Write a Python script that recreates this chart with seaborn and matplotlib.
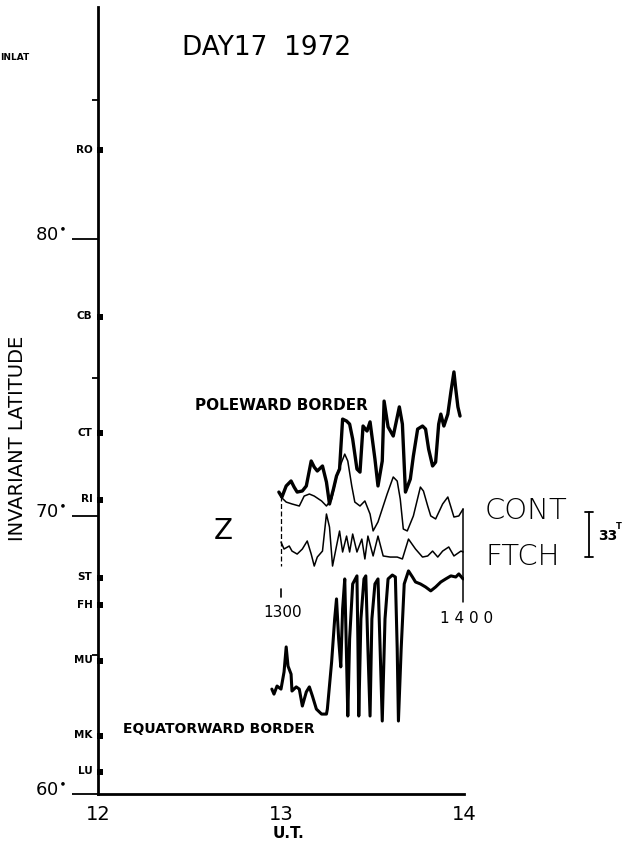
import matplotlib
matplotlib.use("Agg")
import matplotlib.pyplot as plt
import numpy as np
import pandas as pd
import seaborn as sns

# ---------------------------------------------------------------- data
# magnetometer stations along the meridian chain (invariant latitude, deg)
stations = ["RO", "CB", "CT", "RI", "ST", "FH", "MU", "MK", "LU"]
station_lat = [83.2, 77.2, 73.0, 70.6, 67.8, 66.8, 64.8, 62.1, 60.8]

lat_major = [60, 70, 80]
lat_minor = [65, 75, 85]
ut_ticks = [12, 13, 14]
ut_labels = ["12", "13", "14"]

# poleward border of the auroral oval: minutes after 1300 UT, latitude
pole_min = [-0.7, 0.3, 1.7, 3.3, 4.3, 5.3, 7.0, 8.3, 9.9, 10.9, 11.9, 13.6,
            14.9, 15.9, 17.2, 18.2, 19.2, 20.2, 21.5, 22.5, 23.5, 24.9, 25.9,
            26.9, 28.2, 29.2, 30.8, 31.8, 33.2, 33.8, 35.1, 36.8, 38.8, 39.8,
            40.8, 42.4, 43.4, 44.8, 46.4, 47.4, 48.4, 49.7, 50.7, 51.7, 52.4,
            53.4, 54.7, 55.7, 56.7, 57.3, 58.0, 58.7]
pole_lat = [70.88, 70.70, 71.10, 71.28, 71.06, 70.88, 70.92, 71.10, 72.00,
            71.78, 71.64, 71.82, 71.24, 70.45, 70.99, 71.46, 71.71, 73.51,
            73.44, 73.33, 72.79, 71.71, 71.60, 73.26, 73.08, 73.41, 72.07,
            71.10, 72.00, 74.16, 73.23, 72.90, 73.95, 73.33, 70.88, 71.35,
            72.18, 73.15, 73.26, 73.15, 72.43, 71.82, 71.96, 73.33, 73.69,
            73.26, 73.69, 74.49, 75.21, 74.59, 73.95, 73.62]

# equatorward border
eq_min = [-3.0, -2.3, -1.3, 0.0, 1.0, 1.7, 2.3, 3.3, 3.6, 5.0, 6.0, 7.0, 8.3,
          9.3, 10.3, 11.6, 13.3, 14.9, 15.2, 16.6, 17.6, 18.2, 18.9, 19.6,
          20.2, 20.9, 21.5, 21.9, 22.5, 23.5, 24.9, 25.2, 25.5, 26.2, 27.2,
          27.8, 28.5, 29.2, 29.8, 30.8, 31.8, 32.5, 33.2, 34.1, 35.1, 36.5,
          37.5, 38.1, 38.5, 39.4, 40.4, 41.8, 43.1, 44.1, 45.7, 47.4, 49.1,
          50.7, 52.4, 54.0, 55.7, 57.3, 58.3, 59.7]
eq_lat = [63.78, 63.60, 63.89, 63.78, 64.40, 65.30, 64.61, 64.32, 63.71,
          63.86, 63.78, 63.17, 63.68, 63.86, 63.53, 63.06, 62.88, 62.88,
          63.06, 64.76, 66.31, 67.03, 65.59, 64.58, 66.67, 67.75, 64.86,
          62.81, 65.59, 67.57, 67.86, 65.59, 62.81, 66.31, 67.75, 67.86,
          65.23, 62.81, 66.31, 67.57, 67.75, 65.23, 62.63, 66.31, 67.75,
          67.89, 67.82, 65.23, 62.63, 65.23, 67.57, 68.04, 67.82, 67.64,
          67.57, 67.46, 67.32, 67.46, 67.64, 67.75, 67.86, 67.82, 67.93,
          67.75]

# Z-component magnetograms 1300-1400 UT (deflection, nT)
cont_min = [0.0, 1.7, 3.6, 6.0, 7.6, 9.3, 10.9, 13.3, 14.9, 16.6, 18.6, 20.9,
            21.9, 23.2, 24.2, 25.9, 27.5, 29.2, 30.2, 31.8, 34.8, 36.8, 38.1,
            39.1, 40.1, 41.4, 43.4, 45.7, 46.7, 48.1, 49.1, 50.7, 53.0, 54.7,
            55.7, 56.7, 58.3, 59.7]
cont_nt = [8.8, 5.1, 3.7, 2.2, 9.5, 11.0, 9.5, 5.9, 2.2, 7.3, 27.1, 40.3, 35.2,
           16.9, 5.1, 2.2, 5.9, -3.7, -16.1, -9.5, 11.0, 23.5, 20.5, 7.3, -14.7,
           -16.1, -5.1, 16.1, 13.2, 2.2, -5.1, -7.3, 3.7, 8.8, 1.5, -5.9, -5.1,
           0.0]

ftch_min = [0.0, 1.0, 2.7, 3.6, 5.3, 7.0, 8.6, 9.9, 10.9, 11.9, 13.6, 14.9,
            15.9, 16.9, 18.2, 19.2, 20.2, 21.5, 22.5, 23.5, 24.9, 26.5, 27.5,
            28.5, 30.2, 31.8, 33.5, 35.8, 38.1, 39.8, 41.8, 44.1, 46.4, 48.1,
            49.7, 51.4, 53.0, 55.0, 56.7, 59.0, 59.7]
ftch_nt = [7.3, 2.2, 4.4, 0.7, -1.5, 2.2, 8.1, -1.5, -10.3, -3.7, 0.7, 27.9,
           18.3, -10.3, 4.4, 15.4, 0.0, 11.7, 0.0, 13.2, 0.0, 9.5, -5.1, 11.7,
           -2.9, 11.7, -2.9, -3.7, -3.7, -5.1, 9.5, 2.2, -3.7, -2.9, 0.7, -3.7,
           0.7, 3.7, -2.9, 0.7, 0.0]

scale_nt = 33          # length of the calibration bar, nT

# ---------------------------------------------------------------- layout
sns.set_theme(style="white")
plt.rcParams["font.family"] = ["DejaVu Sans"]
plt.rcParams.update({"text.color": "black", "axes.labelcolor": "black",
                     "xtick.color": "black", "ytick.color": "black"})

W, H = 630, 845
fig = plt.figure(figsize=(W / 100, H / 100), dpi=100)
ax = fig.add_axes([98 / W, 50 / H, 366 / W, 787 / H])
ax.set_xlim(12, 14)
ax.set_ylim(60, 88.36)


def ut(minutes):
    return 13 + np.asarray(minutes, dtype=float) / 60.0


def fpx(x, y):
    return x / W, 1 - y / H


# magnetogram placement in the latitude frame
deg_per_nt = 1.62 / scale_nt
cont_base, ftch_base = 70.27, 68.72

# ---------------------------------------------------------------- traces
pole = pd.DataFrame({"UT": ut(pole_min), "lat": pole_lat})
equ = pd.DataFrame({"UT": ut(eq_min), "lat": eq_lat})
cont = pd.DataFrame({"UT": ut(cont_min),
                     "lat": cont_base + np.array(cont_nt) * deg_per_nt})
ftch = pd.DataFrame({"UT": ut(ftch_min),
                     "lat": ftch_base + np.array(ftch_nt) * deg_per_nt})

for df, lw in [(pole, 2.4), (equ, 2.2), (cont, 1.1), (ftch, 1.1)]:
    sns.lineplot(data=df, x="UT", y="lat", ax=ax, color="black", lw=lw,
                 estimator=None, sort=False)

# time frame of the magnetograms
ax.plot([ut(0), ut(0)], [70.75, 68.2], color="black", lw=0.9,
        ls=(0, (4, 2)))
ax.plot([ut(0), ut(0)], [67.4, 67.1], color="black", lw=1.2)
ax.plot([ut(60) - 0.003, ut(60) - 0.003], [cont_base, 66.92],
        color="black", lw=1.1)
ax.text(ut(0.6), 66.56, "1300", ha="center", va="center", fontsize=11)
ax.text(ut(60.8), 66.36, "1 4 0 0", ha="center", va="center", fontsize=11)

# calibration bar
bx = 14.683
b0, b1 = 68.54, 68.54 + scale_nt * deg_per_nt
ax.plot([bx, bx], [b0, b1], color="black", lw=1.3, clip_on=False)
for yb in (b0, b1):
    ax.plot([bx - 0.024, bx + 0.024], [yb, yb], color="black", lw=1.3,
            clip_on=False)
ax.text(14.733, 69.35, f"{scale_nt}", ha="left", va="center",
        fontsize=10, fontweight="bold")
ax.text(14.83, 69.66, "T", ha="left", va="center", fontsize=6,
        fontweight="bold")

# component and station names of the magnetograms
ax.text(12.683, 69.51, "Z", ha="center", va="center", fontsize=20)
ax.text(14.115, 70.23, "CONT", ha="left", va="center", fontsize=21,
        fontweight="light")
ax.text(14.115, 68.58, "FTCH", ha="left", va="center", fontsize=21,
        fontweight="light")

ax.text(12.53, 74.05, "POLEWARD BORDER", ha="left", va="center",
        fontsize=11, fontweight="bold")
ax.text(12.137, 62.38, "EQUATORWARD BORDER", ha="left", va="center",
        fontsize=10, fontweight="bold")

# ---------------------------------------------------------------- stations
st = pd.DataFrame({"UT": [12.012] * len(stations), "lat": station_lat})
sns.scatterplot(data=st, x="UT", y="lat", ax=ax, marker="s", s=22,
                color="black", edgecolor="black", linewidth=0, clip_on=False,
                zorder=5)
for name, lat in zip(stations, station_lat):
    ax.annotate(name, xy=(0, lat), xycoords=("axes fraction", "data"),
                xytext=(-4, 1), textcoords="offset points", ha="right",
                va="center", fontsize=7.5, fontweight="bold")

# ---------------------------------------------------------------- axes
sns.despine(ax=ax)
for side in ("left", "bottom"):
    ax.spines[side].set_color("black")
    ax.spines[side].set_linewidth(2.0)

ax.set_yticks(lat_major)
ax.set_yticks(lat_minor, minor=True)
ax.set_yticklabels([])
ax.tick_params(axis="y", which="major", left=True, direction="out",
               length=19, width=1.3, color="black")
ax.tick_params(axis="y", which="minor", left=True, direction="out",
               length=4.5, width=1.3, color="black")
for v in lat_major:
    ax.annotate(f"{v}" + r"$^{\bullet}$", xy=(0, v),
                xycoords=("axes fraction", "data"), xytext=(-23, 3),
                textcoords="offset points", ha="right", va="center",
                fontsize=13)

ax.set_xticks(ut_ticks)
ax.set_xticklabels(ut_labels, fontsize=14)
ax.tick_params(axis="x", which="major", bottom=False, length=0, pad=7)
ax.set_xlabel("")
ax.set_ylabel("")

fig.text(*fpx(18, 438), "INVARIANT LATITUDE", rotation=90, ha="center",
         va="center", fontsize=14)
fig.text(*fpx(288, 834), "U.T.", ha="center", va="center", fontsize=11,
         fontweight="bold")
fig.text(*fpx(182, 48), "DAY17  1972", ha="left", va="center", fontsize=19)
fig.text(*fpx(0, 57), "INLAT", ha="left", va="center", fontsize=6.5,
         fontweight="bold")

fig.savefig("out.png", dpi=100)
